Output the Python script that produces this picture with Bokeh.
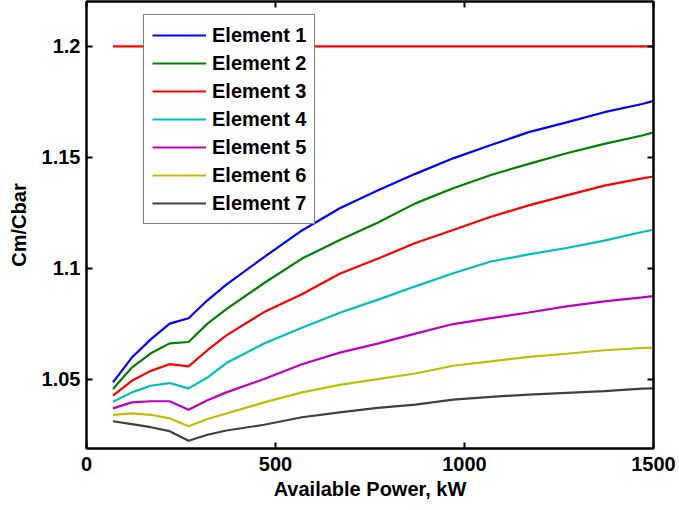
from bokeh.plotting import figure
from bokeh.models import Range1d, FixedTicker, LinearAxis, Legend, LegendItem, Spacer
from bokeh.layouts import row
from bokeh.embed import file_html
from bokeh.resources import INLINE

# ---- data ----
power_kw = [70, 120, 170, 220, 270, 320, 370, 470, 570, 670, 770, 870, 970,
            1070, 1170, 1270, 1370, 1470, 1500]
element_1 = [1.0485, 1.0597, 1.0679, 1.0750, 1.0774, 1.0855, 1.0926, 1.1050, 1.1170,
             1.1270, 1.1350, 1.1425, 1.1495, 1.1555, 1.1613, 1.1657, 1.1703, 1.1740, 1.1754]
element_2 = [1.0455, 1.0552, 1.0616, 1.0661, 1.0667, 1.0750, 1.0815, 1.0933, 1.1043,
             1.1127, 1.1205, 1.1292, 1.1360, 1.1420, 1.1470, 1.1518, 1.1560, 1.1598, 1.1612]
element_3 = [1.0425, 1.0492, 1.0537, 1.0567, 1.0557, 1.0630, 1.0697, 1.0802, 1.0882,
             1.0975, 1.1042, 1.1113, 1.1172, 1.1232, 1.1283, 1.1328, 1.1372, 1.1405, 1.1413]
element_4 = [1.0398, 1.0440, 1.0470, 1.0482, 1.0458, 1.0507, 1.0572, 1.0660, 1.0731,
             1.0799, 1.0857, 1.0918, 1.0977, 1.1030, 1.1062, 1.1091, 1.1124, 1.1163, 1.1173]
element_5 = [1.0368, 1.0395, 1.0400, 1.0400, 1.0362, 1.0404, 1.0440, 1.0500, 1.0567,
             1.0619, 1.0660, 1.0705, 1.0748, 1.0775, 1.0800, 1.0828, 1.0850, 1.0868, 1.0874]
element_6 = [1.0339, 1.0345, 1.0339, 1.0323, 1.0287, 1.0320, 1.0345, 1.0395, 1.0440,
             1.0474, 1.0500, 1.0525, 1.0560, 1.0580, 1.0600, 1.0614, 1.0630, 1.0640, 1.0642]
element_7 = [1.0310, 1.0297, 1.0283, 1.0265, 1.0222, 1.0249, 1.0268, 1.0294, 1.0328,
             1.0350, 1.0370, 1.0385, 1.0407, 1.0420, 1.0430, 1.0438, 1.0446, 1.0457, 1.0458]
limit_x = [70, 1500]
limit_y = [1.2, 1.2]

series_names = ["Element 1", "Element 2", "Element 3", "Element 4",
                "Element 5", "Element 6", "Element 7"]
series_values = [element_1, element_2, element_3, element_4, element_5, element_6, element_7]
series_colors = ["#0000ff", "#008000", "#ff0000", "#00bfbf", "#bf00bf", "#bfbf00", "#404040"]

x_ticks = [0, 500, 1000, 1500]
x_tick_labels = ["0", "500", "1000", "1500"]
y_ticks = [1.05, 1.1, 1.15, 1.2]
y_tick_labels = ["1.05", "1.1", "1.15", "1.2"]

FONT = "Liberation Sans"
FS = "20px"

p = figure(frame_width=567, frame_height=447, output_backend="svg", toolbar_location=None,
           x_range=Range1d(0, 1500), y_range=Range1d(1.0187, 1.2202),
           min_border_left=0, min_border_top=1, min_border_right=24, min_border_bottom=4,
           x_axis_label="Available Power, kW", y_axis_label="Cm/Cbar")
p.xgrid.visible = False
p.ygrid.visible = False
p.outline_line_color = "black"
p.outline_line_width = 2
p.background_fill_color = "white"
p.border_fill_color = "white"

renderers = []
for vals, col in zip(series_values, series_colors):
    r = p.line(power_kw, vals, line_color=col, line_width=2.2)
    renderers.append(r)
p.line(limit_x, limit_y, line_color="#ff0000", line_width=2.2)

def style_axis(ax, ticks, labels, show_labels=True):
    ax.ticker = FixedTicker(ticks=ticks)
    ax.major_label_overrides = {t: l for t, l in zip(ticks, labels)}
    ax.major_tick_in = 6
    ax.major_tick_out = 0
    ax.major_tick_line_width = 2
    ax.major_tick_line_color = "black"
    ax.minor_tick_line_color = None
    ax.axis_line_color = "black"
    ax.axis_line_width = 2
    ax.major_label_text_font = FONT
    ax.major_label_text_font_style = "bold"
    ax.major_label_text_color = "black"
    ax.major_label_text_font_size = FS if show_labels else "0px"
    ax.axis_label_text_font = FONT
    ax.axis_label_text_font_style = "bold"
    ax.axis_label_text_font_size = FS
    ax.axis_label_text_color = "black"

style_axis(p.xaxis[0], x_ticks, x_tick_labels)
style_axis(p.yaxis[0], y_ticks, y_tick_labels)
p.xaxis[0].major_label_standoff = 8
p.xaxis[0].axis_label_standoff = 4
p.yaxis[0].major_label_standoff = 6
p.yaxis[0].axis_label_standoff = 9

top_axis = LinearAxis()
style_axis(top_axis, x_ticks, ["" for _ in x_ticks], show_labels=False)
top_axis.major_label_standoff = 0
p.add_layout(top_axis, "above")
right_axis = LinearAxis()
style_axis(right_axis, y_ticks, ["" for _ in y_ticks], show_labels=False)
right_axis.major_label_standoff = 0
p.add_layout(right_axis, "right")

legend = Legend(items=[LegendItem(label=n, renderers=[r]) for n, r in zip(series_names, renderers)],
                location=(57, 224))
legend.label_text_font = FONT
legend.label_text_font_style = "bold"
legend.label_text_font_size = FS
legend.label_text_color = "black"
legend.border_line_color = "black"
legend.border_line_width = 1
legend.background_fill_color = "white"
legend.background_fill_alpha = 1.0
legend.glyph_width = 54
legend.glyph_height = 24
legend.label_height = 24
legend.spacing = 4
legend.padding = 8
legend.label_standoff = 6
legend.margin = 0
p.add_layout(legend, "center")

layout = row(Spacer(width=4, height=10), p)
open("out.html", "w").write(file_html(layout, INLINE))
